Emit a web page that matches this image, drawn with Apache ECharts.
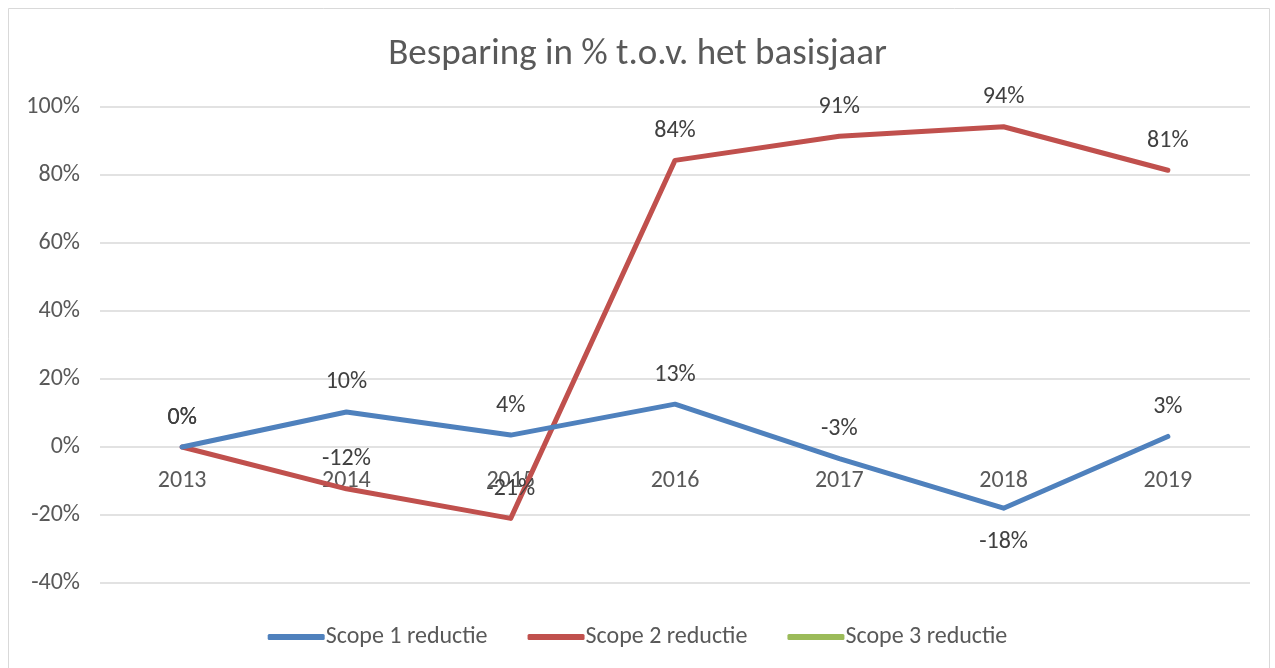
<!DOCTYPE html>
<html>
<head>
<meta charset="utf-8">
<script src="https://cdn.jsdelivr.net/npm/echarts@6/dist/echarts.min.js"></script>
<style>
  html, body { margin: 0; padding: 0; background: #fff; }
  #main { width: 1275px; height: 668px; }
</style>
</head>
<body>
<div id="main"></div>
<script>
var years = ['2013', '2014', '2015', '2016', '2017', '2018', '2019'];
var scope1 = [0, 10.3, 3.5, 12.6, -3.4, -18, 3.1];
var scope2 = [0, -12.3, -21, 84.3, 91.4, 94.2, 81.4];
var scope3 = [null, null, null, null, null, null, null];

var textColor = '#595959';
var font = 'Calibri, Carlito, "Open Sans", sans-serif';

function pct(p) {
    return Math.round(p.value) + '%';
}

window.addEventListener('load', function () {
    var chart = echarts.init(document.getElementById('main'));

    var lineLabel = {
        show: true, position: 'top', distance: 17, fontSize: 24, color: '#404040',
        formatter: pct, fontFamily: font
    };

    var option = {
        backgroundColor: '#fff',
        animation: false,
        textStyle: { fontFamily: font },
        title: {
            text: 'Besparing in % t.o.v. het basisjaar',
            left: 'center',
            top: 31,
            textStyle: { fontSize: 37, fontWeight: 'normal', color: textColor, fontFamily: font }
        },
        graphic: [{
            type: 'rect',
            shape: { x: 8.5, y: 8.5, width: 1261, height: 670 },
            style: { fill: 'none', stroke: '#d9d9d9', lineWidth: 1 },
            silent: true
        }],
        legend: {
            bottom: 14,
            left: 'center',
            itemWidth: 57,
            itemHeight: 6,
            itemGap: 40,
            icon: 'roundRect',
            textStyle: { fontSize: 24, color: textColor, fontFamily: font, padding: [0, 0, 0, -4] },
            data: ['Scope 1 reductie', 'Scope 2 reductie', 'Scope 3 reductie']
        },
        grid: { left: 100, right: 25, top: 107, bottom: 85 },
        xAxis: {
            type: 'category',
            data: years,
            boundaryGap: true,
            offset: -136,
            axisLine: { show: false, onZero: false },
            axisTick: { show: false },
            axisLabel: { fontSize: 24, color: textColor, margin: 22, fontFamily: font }
        },
        yAxis: {
            type: 'value',
            min: -40,
            max: 100,
            interval: 20,
            axisLine: { show: false },
            axisTick: { show: false },
            splitLine: { lineStyle: { color: '#d9d9d9', width: 1.5 } },
            axisLabel: { fontSize: 24, color: textColor, margin: 20, formatter: '{value}%', fontFamily: font }
        },
        series: [
            {
                name: 'Scope 1 reductie',
                type: 'line',
                data: scope1.map(function (v, i) {
                    // -18% label sits below its point
                    if (years[i] === '2018') {
                        return { value: v, label: { position: 'bottom', distance: 21 } };
                    }
                    return v;
                }),
                symbol: 'circle',
                symbolSize: 1,
                showSymbol: true,
                color: '#4f81bd',
                lineStyle: { width: 5, color: '#4f81bd', cap: 'round', join: 'round' },
                label: lineLabel,
                labelLayout: { hideOverlap: false },
                z: 3
            },
            {
                name: 'Scope 2 reductie',
                type: 'line',
                data: scope2,
                symbol: 'circle',
                symbolSize: 1,
                showSymbol: true,
                color: '#c0504d',
                lineStyle: { width: 5, color: '#c0504d', cap: 'round', join: 'round' },
                label: lineLabel,
                labelLayout: { hideOverlap: false },
                z: 2
            },
            {
                name: 'Scope 3 reductie',
                type: 'line',
                data: scope3,
                symbol: 'none',
                color: '#9bbb59',
                lineStyle: { width: 5, color: '#9bbb59' }
            }
        ]
    };

    chart.setOption(option);
});
</script>
</body>
</html>
